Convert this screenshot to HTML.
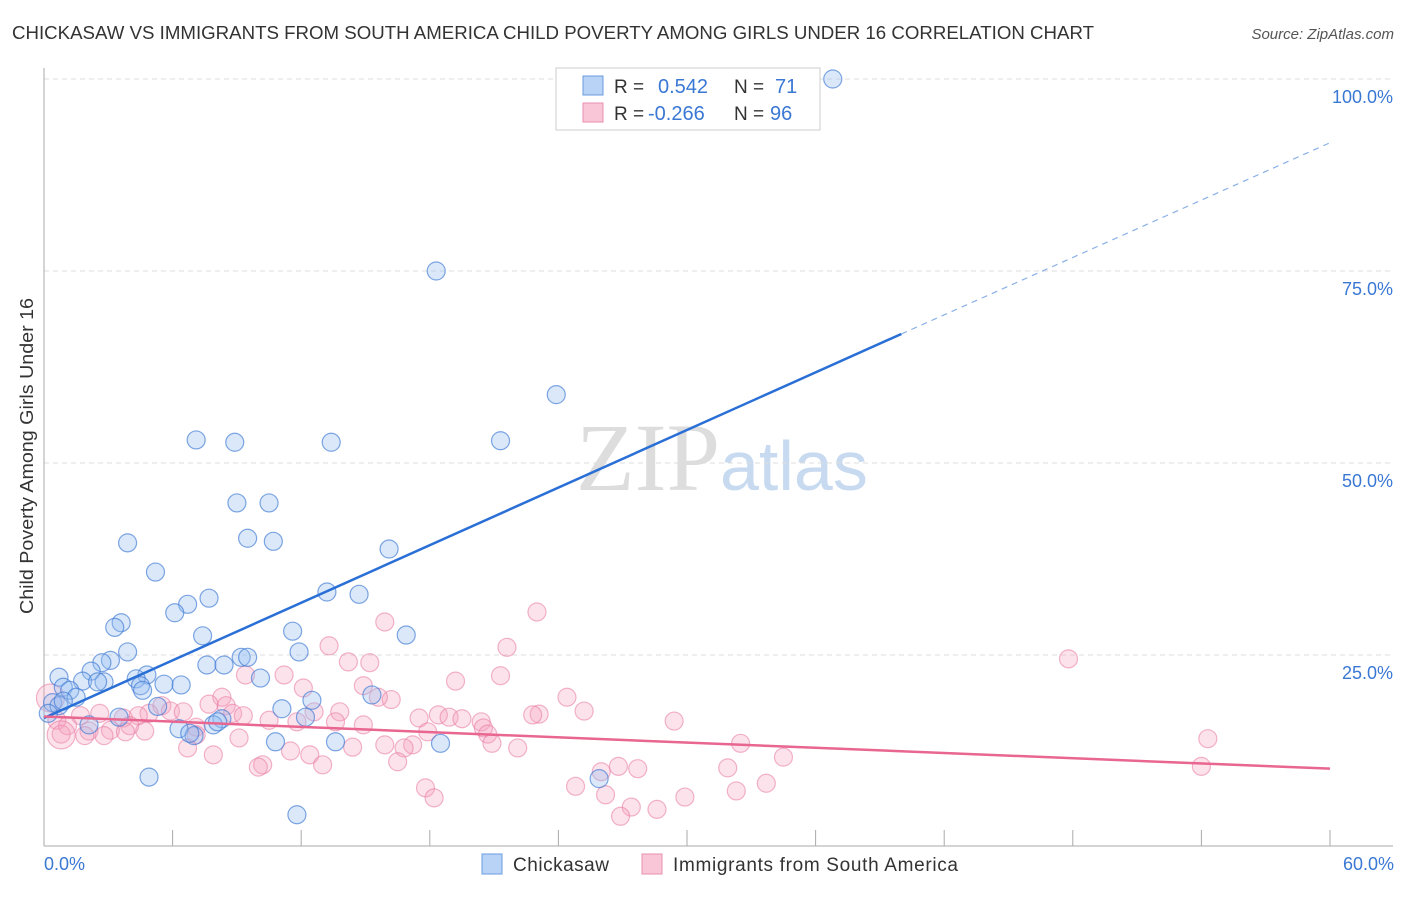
<!DOCTYPE html>
<html><head><meta charset="utf-8"><style>
body{margin:0;background:#fff;font-family:"Liberation Sans",sans-serif}
</style></head><body>
<svg width="1406" height="892" xmlns="http://www.w3.org/2000/svg" font-family="Liberation Sans, sans-serif">
<text x="12" y="39" font-size="18" fill="#333" textLength="1082" lengthAdjust="spacingAndGlyphs">CHICKASAW VS IMMIGRANTS FROM SOUTH AMERICA CHILD POVERTY AMONG GIRLS UNDER 16 CORRELATION CHART</text>
<text x="1394" y="39" font-size="15" fill="#555" font-style="italic" text-anchor="end">Source: ZipAtlas.com</text>
<text x="720" y="490" font-size="96" fill="#ddd" font-family="Liberation Serif, serif" text-anchor="end">ZIP</text>
<text x="720" y="490" font-size="70" fill="#c8daf0">atlas</text>
<g id="grid"></g>
<g id="axes"></g>
<g id="pts"></g>
<g id="lines"></g>
<text transform="translate(33,456) rotate(-90)" font-size="18" fill="#333" text-anchor="middle" textLength="316" lengthAdjust="spacingAndGlyphs">Child Poverty Among Girls Under 16</text>
<text x="44" y="870" font-size="18" fill="#3a78d4">0.0%</text>
<text x="1394" y="870" font-size="18" fill="#3a78d4" text-anchor="end">60.0%</text>
<g>
<rect x="556" y="68" width="264" height="62" fill="#fff" stroke="#ccc"/>
<rect x="583" y="76" width="20" height="19" fill="#b8d3f5" stroke="#6a9be0"/>
<rect x="583" y="103" width="20" height="19" fill="#f8c6d6" stroke="#e98fb0"/>
<text x="614" y="93" font-size="19" fill="#333">R = </text><text x="658" y="93" font-size="20" fill="#3a78d4">0.542</text>
<text x="734" y="93" font-size="19" fill="#333">N = </text><text x="775" y="93" font-size="20" fill="#3a78d4">71</text>
<text x="614" y="120" font-size="19" fill="#333">R = </text><text x="648" y="120" font-size="20" fill="#3a78d4">-0.266</text>
<text x="734" y="120" font-size="19" fill="#333">N = </text><text x="770" y="120" font-size="20" fill="#3a78d4">96</text>
</g>
<g>
<rect x="482" y="854" width="20" height="20" fill="#b8d3f5" stroke="#6a9be0"/>
<text x="513" y="871" font-size="19" fill="#333" textLength="96">Chickasaw</text>
<rect x="642" y="854" width="20" height="20" fill="#f8c6d6" stroke="#e98fb0"/>
<text x="673" y="871" font-size="19" fill="#333" textLength="285">Immigrants from South America</text>
</g>
</svg>
<script>
const yTicks=[25,50,75,100];
const yTickLabels=["25.0%","50.0%","75.0%","100.0%"];
const xTicks=[0,6,12,18,24,30,36,42,48,54,60];
const blueX=[36.8,18.3,23.9,7.1,8.9,13.4,21.3,9.0,10.5,9.5,10.7,3.9,16.1,5.2,7.7,6.7,6.1,13.2,14.7,3.6,3.3,11.6,16.9,7.4,3.9,11.9,9.2,9.5,3.1,2.7,7.6,8.4,4.8,2.2,0.7,10.1,1.8,2.8,2.5,4.3,5.6,6.4,4.5,4.6,0.9,1.2,1.5,15.3,12.5,0.4,0.7,5.3,11.1,0.2,8.3,3.5,2.1,7.9,6.3,7.0,10.8,13.6,18.5,4.9,25.9,11.8,0.9,12.2,6.8,8.1];
const blueY=[100,75,58.9,53,52.7,52.7,52.9,44.8,44.8,40.2,39.8,39.6,38.8,35.8,32.4,31.6,30.5,33.2,32.9,29.2,28.6,28.1,27.6,27.5,25.4,25.4,24.7,24.7,24.3,24.0,23.7,23.7,22.4,22.9,22.1,22.0,21.6,21.5,21.5,21.9,21.2,21.1,21.0,20.4,20.8,20.4,19.5,19.8,19.1,18.8,18.4,18.3,18.0,17.4,16.7,16.9,15.9,15.9,15.4,14.5,13.7,13.7,13.5,9.1,8.9,4.2,19.0,16.9,14.8,16.3];
const pinkX=[47.8,23.0,15.9,13.3,21.6,14.2,15.2,21.3,19.2,11.2,9.4,14.9,12.1,24.4,8.3,16.2,15.6,8.5,7.7,25.2,5.5,12.6,5.9,6.5,8.8,13.8,4.9,23.1,22.8,2.6,1.7,3.7,4.4,17.5,18.4,18.9,19.5,29.4,14.9,11.8,10.5,9.3,20.4,20.5,13.6,0.6,1.1,2.1,3.1,4.0,7.1,2.8,0.8,1.9,4.7,3.8,17.9,20.7,7.1,9.1,54.3,32.5,22.1,15.9,17.2,16.8,20.9,14.4,6.7,11.5,12.4,34.5,7.9,16.5,13.0,10.2,10.0,26.8,27.7,31.9,26.0,54.0,33.7,24.8,17.8,32.3,26.2,18.2,29.9,28.6,27.4,26.9,0.8,0.3];
const pinkY=[24.5,30.6,29.3,26.2,26.0,24.1,24.0,22.3,21.6,22.4,22.4,21.0,20.7,19.5,19.5,19.2,19.5,18.4,18.6,17.7,18.4,17.6,17.7,17.6,17.4,17.6,17.4,17.3,17.2,17.4,17.1,16.8,17.1,16.8,17.2,16.9,16.7,16.4,15.9,16.3,16.5,17.1,16.3,15.5,16.3,16.5,15.8,15.1,15.2,15.8,15.6,14.5,14.7,14.5,15.1,15.0,15.0,14.7,14.6,14.2,14.1,13.5,12.9,13.3,13.3,12.9,13.5,13.0,12.9,12.5,12.0,11.7,12.0,11.1,10.7,10.7,10.4,10.5,10.2,10.3,9.8,10.5,8.3,7.9,7.7,7.3,6.8,6.4,6.5,4.9,5.2,4.0,14.6,19.4];
const blueTrend=[[0,16.8],[40,66.8],[60,91.7]];
const pinkTrend=[[0,17.0],[60,10.2]];
const NS="http://www.w3.org/2000/svg";
const X=v=>44+v*(1286/60), Y=v=>847-v*7.68;
function mk(t,a,p){const e=document.createElementNS(NS,t);for(const k in a)e.setAttribute(k,a[k]);p.appendChild(e);return e;}
const grid=document.getElementById('grid'),axes=document.getElementById('axes'),pts=document.getElementById('pts'),lines=document.getElementById('lines');
yTicks.forEach((t,i)=>{
 const l=mk('line',{x1:44,x2:1393,y1:Y(t),y2:Y(t),stroke:'#ddd','stroke-dasharray':'5,4'},grid);
 
 
 const tx=mk('text',{x:1393,y:Y(t)+24,'font-size':18,fill:'#3a78d4','text-anchor':'end'},grid);
 tx.textContent=yTickLabels[i];
 
 
});
const ax=mk('line',{x1:44,x2:44,y1:68,y2:846,stroke:'#aaa'},axes);


const bx=mk('line',{x1:44,x2:1393,y1:846,y2:846,stroke:'#aaa'},axes);


xTicks.forEach(t=>{const l=mk('line',{x1:X(t),x2:X(t),y1:830,y2:846,stroke:'#aaa'},axes);
 
 });
pinkX.forEach((v,i)=>{const big=i>=pinkX.length-2;
 const c=mk('circle',{cx:X(v),cy:Y(pinkY[i]),r:big?14:9,fill:'rgba(244,160,188,0.3)',stroke:'rgba(232,120,160,0.55)','stroke-width':1.2},pts);
 
 });
blueX.forEach((v,i)=>{
 const c=mk('circle',{cx:X(v),cy:Y(blueY[i]),r:9,fill:'rgba(150,190,240,0.35)',stroke:'rgba(60,120,210,0.65)','stroke-width':1.2},pts);
 
 });
let l1=mk('line',{x1:X(blueTrend[0][0]),y1:Y(blueTrend[0][1]),x2:X(blueTrend[1][0]),y2:Y(blueTrend[1][1]),stroke:'#2a6fd6','stroke-width':2.5},lines);


let l2=mk('line',{x1:X(blueTrend[1][0]),y1:Y(blueTrend[1][1]),x2:X(blueTrend[2][0]),y2:Y(blueTrend[2][1]),stroke:'#8ab0e6','stroke-width':1.2,'stroke-dasharray':'6,5'},lines);


let l3=mk('line',{x1:X(pinkTrend[0][0]),y1:Y(pinkTrend[0][1]),x2:X(pinkTrend[1][0]),y2:Y(pinkTrend[1][1]),stroke:'#e8668f','stroke-width':2.5},lines);


</script>
</body></html>
